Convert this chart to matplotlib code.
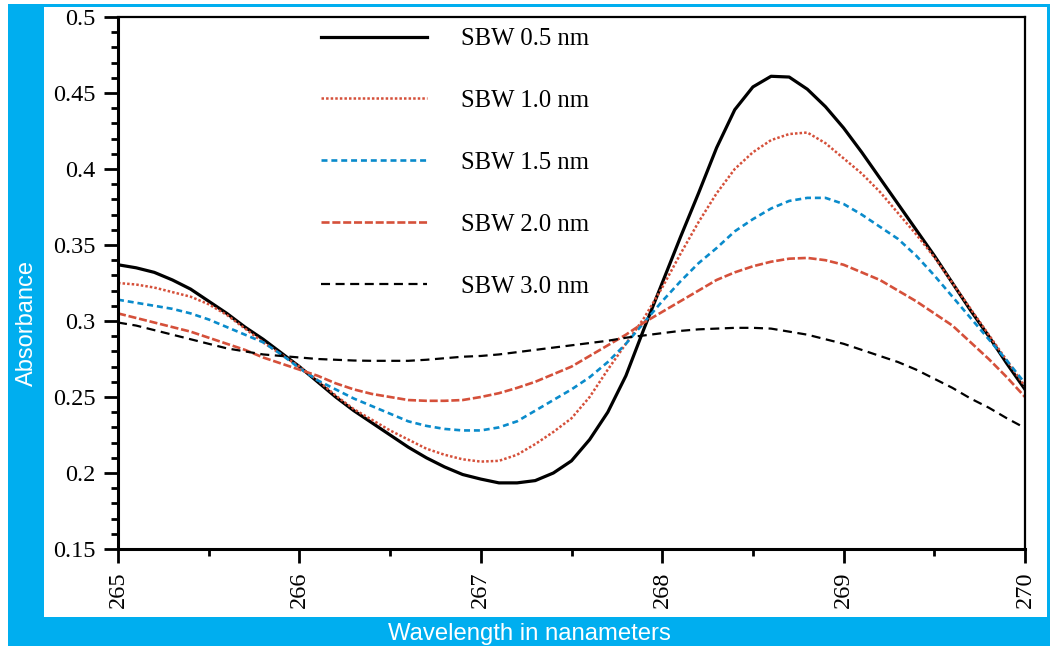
import matplotlib
matplotlib.use("Agg")
import matplotlib.pyplot as plt
from matplotlib.patches import Rectangle
import numpy as np

# wavelength grid (nm) and absorbance at 0.1 nm steps
wavelength = [265.0, 265.1, 265.2, 265.3, 265.4, 265.5, 265.6, 265.7, 265.8, 265.9,
              266.0, 266.1, 266.2, 266.3, 266.4, 266.5, 266.6, 266.7, 266.8, 266.9,
              267.0, 267.1, 267.2, 267.3, 267.4, 267.5, 267.6, 267.7, 267.8, 267.9,
              268.0, 268.1, 268.2, 268.3, 268.4, 268.5, 268.6, 268.7, 268.8, 268.9,
              269.0, 269.1, 269.2, 269.3, 269.4, 269.5, 269.6, 269.7, 269.8, 269.9,
              270.0]

sbw_05 = [0.337, 0.335, 0.332, 0.327, 0.321, 0.313, 0.305, 0.296, 0.288, 0.279,
          0.270, 0.260, 0.250, 0.241, 0.233, 0.225, 0.217, 0.210, 0.204, 0.199,
          0.196, 0.1935, 0.1935, 0.195, 0.200, 0.208, 0.222, 0.240, 0.264, 0.295,
          0.325, 0.355, 0.384, 0.414, 0.439, 0.454, 0.461, 0.4605, 0.4525, 0.441,
          0.427, 0.411, 0.394, 0.377, 0.360, 0.343, 0.325, 0.307, 0.290, 0.272,
          0.255]

sbw_10 = [0.325, 0.324, 0.322, 0.319, 0.316, 0.311, 0.304, 0.295, 0.286, 0.278,
          0.270, 0.261, 0.251, 0.242, 0.235, 0.228, 0.222, 0.216, 0.212, 0.209,
          0.2075, 0.208, 0.212, 0.219, 0.227, 0.236, 0.250, 0.268, 0.285, 0.302,
          0.322, 0.344, 0.365, 0.384, 0.400, 0.411, 0.419, 0.423, 0.424, 0.417,
          0.407, 0.397, 0.385, 0.371, 0.357, 0.342, 0.325, 0.308, 0.291, 0.274,
          0.257]

sbw_15 = [0.314, 0.312, 0.310, 0.308, 0.305, 0.301, 0.296, 0.291, 0.286, 0.278,
          0.269, 0.261, 0.255, 0.249, 0.244, 0.239, 0.234, 0.231, 0.229, 0.228,
          0.228, 0.230, 0.234, 0.241, 0.248, 0.255, 0.263, 0.273, 0.285, 0.299,
          0.313, 0.326, 0.338, 0.348, 0.359, 0.367, 0.374, 0.379, 0.381, 0.381,
          0.377, 0.370, 0.362, 0.354, 0.343, 0.330, 0.316, 0.302, 0.288, 0.274,
          0.259]

sbw_20 = [0.305, 0.302, 0.299, 0.296, 0.293, 0.289, 0.285, 0.281, 0.276, 0.272,
          0.268, 0.264, 0.259, 0.255, 0.252, 0.250, 0.248, 0.2475, 0.2475, 0.248,
          0.250, 0.2525, 0.256, 0.260, 0.265, 0.270, 0.277, 0.284, 0.291, 0.299,
          0.306, 0.313, 0.320, 0.327, 0.332, 0.336, 0.339, 0.341, 0.3415, 0.340,
          0.337, 0.332, 0.327, 0.320, 0.313, 0.305, 0.297, 0.286, 0.275, 0.263,
          0.250]

sbw_30 = [0.299, 0.297, 0.294, 0.291, 0.288, 0.285, 0.282, 0.280, 0.278, 0.277,
          0.276, 0.275, 0.2745, 0.274, 0.2738, 0.2738, 0.2738, 0.2745, 0.2755, 0.2765,
          0.277, 0.278, 0.2795, 0.281, 0.2825, 0.284, 0.2855, 0.287, 0.289, 0.2905,
          0.292, 0.2935, 0.2945, 0.295, 0.2955, 0.2955, 0.295, 0.293, 0.291, 0.288,
          0.285, 0.281, 0.277, 0.273, 0.268, 0.262, 0.256, 0.249, 0.243, 0.236,
          0.2296]

labels = ["SBW 0.5 nm", "SBW 1.0 nm", "SBW 1.5 nm", "SBW 2.0 nm", "SBW 3.0 nm"]
xticks = [265, 266, 267, 268, 269, 270]
yticks = [0.15, 0.2, 0.25, 0.3, 0.35, 0.4, 0.45, 0.5]
ytick_labels = ["0.15", "0.2", "0.25", "0.3", "0.35", "0.4", "0.45", "0.5"]

frame_blue = "#00AEEF"
red = "#D5503A"
blue = "#0A8BCB"

plt.rcParams["lines.scale_dashes"] = False
serif = ["Liberation Serif", "DejaVu Serif"]
sans = ["Liberation Sans", "DejaVu Sans"]

W, H = 1053, 646
fig = plt.figure(figsize=(W / 100, H / 100), dpi=100)

# blue frame round the chart
fig.patches.append(Rectangle((8 / W, 0), 36 / W, 642 / H, transform=fig.transFigure,
                             facecolor=frame_blue, edgecolor="none", zorder=0))
fig.patches.append(Rectangle((8 / W, 0), 1042 / W, 29 / H, transform=fig.transFigure,
                             facecolor=frame_blue, edgecolor="none", zorder=0))
fig.patches.append(Rectangle((8 / W, 639 / H), 1042 / W, 3 / H, transform=fig.transFigure,
                             facecolor=frame_blue, edgecolor="none", zorder=0))
fig.patches.append(Rectangle((1047 / W, 0), 3 / W, 642 / H, transform=fig.transFigure,
                             facecolor=frame_blue, edgecolor="none", zorder=0))

ax = fig.add_axes([118 / W, 97 / H, 907 / W, 532 / H])

ax.plot(wavelength, sbw_05, color="black", lw=2.3, label=labels[0])
ax.plot(wavelength, sbw_10, color=red, lw=1.8, dashes=(1.8, 1.5), label=labels[1])
ax.plot(wavelength, sbw_15, color=blue, lw=1.9, dashes=(4.3, 2.8), label=labels[2])
ax.plot(wavelength, sbw_20, color=red, lw=1.9, dashes=(5.8, 2.0), label=labels[3])
ax.plot(wavelength, sbw_30, color="black", lw=1.6, dashes=(6.5, 4.0), label=labels[4])

ax.set_xlim(265, 270)
ax.set_ylim(0.15, 0.5)
ax.set_xticks(xticks)
ax.set_xticks(np.arange(265.5, 270, 1.0), minor=True)
ax.set_yticks(yticks)
ax.set_yticklabels(ytick_labels)
ax.set_yticks(np.arange(0.15, 0.5, 0.01), minor=True)

for lab in ax.get_xticklabels():
    lab.set_rotation(90)
for lab in ax.get_xticklabels() + ax.get_yticklabels():
    lab.set_fontfamily(serif)
    lab.set_fontsize(17.5)

ax.tick_params(axis="both", which="major", direction="out", length=10, width=2, colors="black")
ax.tick_params(axis="y", which="major", pad=6)
ax.tick_params(axis="x", which="major", pad=6)
ax.tick_params(axis="both", which="minor", direction="out", length=5, width=2)
ax.tick_params(top=False, right=False, which="both")

ax.spines["left"].set_linewidth(2.2)
ax.spines["bottom"].set_linewidth(2.2)
ax.spines["top"].set_linewidth(1.6)
ax.spines["right"].set_linewidth(1.6)

leg = ax.legend(loc="upper left", bbox_to_anchor=(0.2238, 0.9794), frameon=False,
                prop={"family": serif, "size": 17.8}, handlelength=4.3, handletextpad=1.35,
                labelspacing=1.6, borderpad=0, borderaxespad=0)

fig.text(27 / W, 0.5, "Absorbance", rotation=90, color="white", ha="center", va="center",
         family=sans, fontsize=17)
fig.text(529 / W, 12 / H, "Wavelength in nanameters", color="white", ha="center", va="center",
         family=sans, fontsize=17.2)

fig.savefig("out.png", dpi=100)
